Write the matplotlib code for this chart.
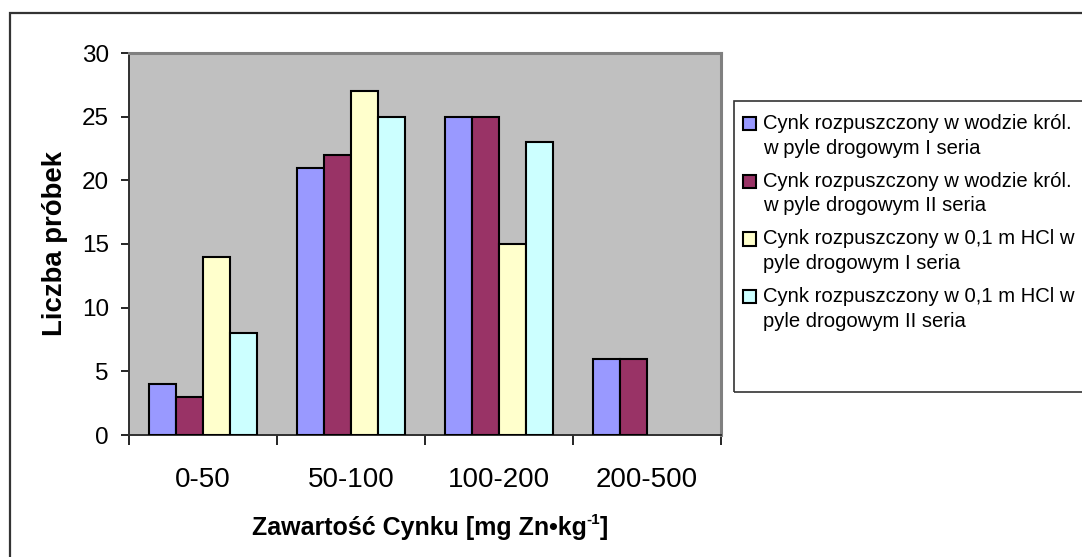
import matplotlib
matplotlib.use("Agg")
import matplotlib.pyplot as plt
import numpy as np
from matplotlib.patches import Rectangle
from matplotlib.legend_handler import HandlerPatch

plt.rcParams['font.family'] = ['Liberation Sans', 'DejaVu Sans']

categories = ["0-50", "50-100", "100-200", "200-500"]
series_labels = [
    "Cynk rozpuszczony w wodzie król.\nw pyle drogowym I seria",
    "Cynk rozpuszczony w wodzie król.\nw pyle drogowym II seria",
    "Cynk rozpuszczony w 0,1 m HCl w\npyle drogowym I seria",
    "Cynk rozpuszczony w 0,1 m HCl w\npyle drogowym II seria",
]
woda_krol_I = [4, 21, 25, 6]
woda_krol_II = [3, 22, 25, 6]
hcl_I = [14, 27, 15, 0]
hcl_II = [8, 25, 23, 0]
colors = ["#9999FF", "#993366", "#FFFFCC", "#CCFFFF"]
y_title = "Liczba próbek"
x_title_parts = ["Zawartość Cynku [mg Zn•kg", "-1", "]"]

W, H, DPI = 1082, 557, 100
fig = plt.figure(figsize=(W / DPI, H / DPI), dpi=DPI)
fig.patch.set_facecolor("white")

# outer chart frame (only its left and top edges fall inside the canvas)
fig.add_artist(Rectangle((9.5 / W, -0.2), 1.5, 1 - 12.5 / H + 0.2,
                         transform=fig.transFigure, fill=False,
                         edgecolor="#333333", lw=1.6))

ax = fig.add_axes([129 / W, 1 - 435 / H, (721 - 129) / W, (435 - 53) / H])
ax.set_facecolor("#C0C0C0")

x = np.arange(len(categories))
bar_w = 0.182
all_series = [woda_krol_I, woda_krol_II, hcl_I, hcl_II]
handles = []
for i, (vals, col) in enumerate(zip(all_series, colors)):
    offs = (i - 1.5) * bar_w
    vals_arr = np.array(vals, dtype=float)
    keep = vals_arr > 0
    b = ax.bar(x[keep] + offs, vals_arr[keep], width=bar_w, color=col,
               edgecolor="black", linewidth=1.5, zorder=3)
    handles.append(b.patches[0])

ax.set_xlim(-0.5, len(categories) - 0.5)
ax.set_ylim(0, 30)
ax.set_yticks(np.arange(0, 31, 5))
ax.tick_params(axis="y", direction="out", length=6, width=1.2,
               labelsize=17.5, pad=8.5, colors="black")

# category boundaries carry the tick marks, labels sit in between
ax.set_xticks(np.arange(-0.5, len(categories) - 0.4, 1.0))
ax.set_xticklabels([])
ax.set_xticks(x, minor=True)
ax.set_xticklabels(categories, minor=True)
ax.tick_params(axis="x", which="major", direction="out", length=7.5, width=1.2)
ax.tick_params(axis="x", which="minor", length=0, labelsize=20, pad=23)

for side in ["top", "right"]:
    ax.spines[side].set_color("#808080")
    ax.spines[side].set_linewidth(2.2)
for side in ["left", "bottom"]:
    ax.spines[side].set_color("#303030")
    ax.spines[side].set_linewidth(1.4)

ax.set_ylabel(y_title, fontsize=19.8, fontweight="bold", labelpad=10)

# x-axis title with a small raised exponent, centred under the chart
renderer = fig.canvas.get_renderer()
sizes = [18, 11, 18]
rises = [0, 11, 0]
pieces = []
for txt, fs in zip(x_title_parts, sizes):
    t = fig.text(0, 0, txt, fontsize=fs, fontweight="bold",
                 ha="left", va="baseline", transform=None)
    pieces.append(t)
widths = [p.get_window_extent(renderer).width for p in pieces]
cx, base = 430, H - 535
xpos = cx - sum(widths) / 2
for p, w, r in zip(pieces, widths, rises):
    p.set_position((xpos, base + r))
    xpos += w


class FirstLineSquare(HandlerPatch):
    def create_artists(self, legend, orig_handle, xdescent, ydescent,
                       width, height, fontsize, trans):
        p = Rectangle((-xdescent, -ydescent + 0.62 * fontsize), width, height)
        self.update_prop(p, orig_handle, legend)
        p.set_edgecolor("black")
        p.set_linewidth(1.5)
        p.set_transform(trans)
        return [p]


# legend frame runs past the right edge of the canvas
fig.add_artist(Rectangle((733.5 / W, 1 - 392 / H), 0.5, (392 - 100.5) / H,
                         transform=fig.transFigure, fill=False,
                         edgecolor="#333333", lw=1.2))
leg = fig.legend(handles, series_labels, loc="upper left",
                 bbox_to_anchor=(743 / W, 1 - 114 / H), frameon=False,
                 fontsize=14.6, handlelength=0.62, handleheight=0.62,
                 handletextpad=0.35, labelspacing=0.7, borderpad=0,
                 borderaxespad=0,
                 handler_map={Rectangle: FirstLineSquare()})
for t in leg.get_texts():
    t.set_linespacing(1.37)

fig.savefig("out.png", dpi=DPI)
